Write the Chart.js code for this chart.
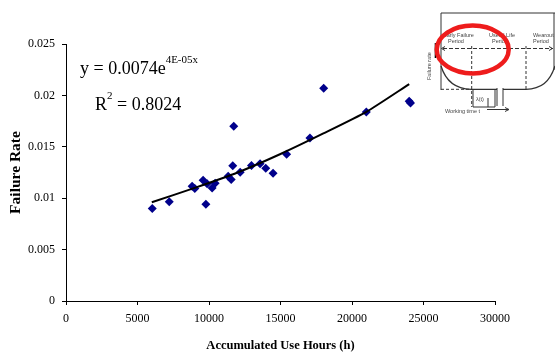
<!DOCTYPE html>
<html>
<head>
<meta charset="utf-8">
<script src="https://cdn.jsdelivr.net/npm/chart.js@4.4.0/dist/chart.umd.min.js"></script>
<style>
  body { margin: 0; background: #fff; }
  #wrap { position: relative; width: 555px; height: 356px; font-family: "Liberation Serif", "Times New Roman", serif; }
  #chart { position: absolute; left: 0; top: 0; }
  .eq { position: absolute; font-size: 18px; line-height: 20px; white-space: nowrap; color: #000; }
  .eq sup { font-size: 11px; position: relative; top: -4px; }
  #inset { position: absolute; left: 0; top: 0; pointer-events: none; }
  #inset text { font-family: "Liberation Sans", Arial, sans-serif; font-size: 5.5px; fill: #444; }
</style>
</head>
<body>
<div id="wrap">
  <canvas id="chart" width="555" height="356"></canvas>
  <div class="eq" id="eq1" style="left:80px; top:53px;">y = 0.0074e<sup>4E-05x</sup></div>
  <div class="eq" id="eq2" style="left:95px; top:89px;">R<sup>2</sup> = 0.8024</div>
  <svg id="inset" width="555" height="356" viewBox="0 0 555 356">
    <g stroke="#333" fill="none" stroke-width="1">
      <polyline points="441,90 441,13 555,13" />
      <line x1="554" y1="13" x2="554" y2="70" />
      <line x1="443" y1="48.5" x2="553" y2="48.5" stroke-dasharray="4 2" />
      <path d="M445,46.5 L441.5,48.5 L445,50.5 M549,46.5 L552.5,48.5 L549,50.5" />
      <line x1="471.7" y1="46" x2="471.7" y2="107" stroke-dasharray="3 2" />
      <line x1="526" y1="46" x2="526" y2="90" stroke-dasharray="3 2" />
      <line x1="441" y1="89.3" x2="470" y2="89.3" stroke-dasharray="3 2" />
      <path d="M441,66 C446,82 456,89 471,89.3 L497,89.3 M503,89.3 L526,89.3 C541,89 550,82 555,66" stroke-width="1.3" />
      <path d="M497,88 L497,106 M503,88 L503,106" />
      <path d="M473,90 L473,107 L495,107 L495,90 M488,98 L488,107" />
      <line x1="435.5" y1="43" x2="435.5" y2="58" stroke="#000" stroke-width="1.6" />
      <path d="M487,109.5 L509,109.5 M505,107.5 L509,109.5 L505,111.5" />
    </g>
    <text x="443" y="37">Early Failure</text>
    <text x="448" y="43">Period</text>
    <text x="489" y="37">Useful Life</text>
    <text x="492" y="43">Period</text>
    <text x="533" y="37">Wearout</text>
    <text x="533" y="43">Period</text>
    <text x="476" y="101">λ(t)</text>
    <text x="445" y="113">Working time t</text>
    <text transform="translate(431,80) rotate(-90)">Failure rate</text>
    <ellipse cx="472.7" cy="49.5" rx="36" ry="24" fill="none" stroke="#ee1c1c" stroke-width="4.5" />
  </svg>
</div>
<script>
const hours = [6030, 7220, 8820, 9010, 9590, 9780, 9870, 10220, 10430, 11340, 11550, 11660,
  11730, 12180, 12970, 13570, 13970, 14480, 15430, 17060, 18020, 21000, 24000, 24090]
const failureRate = [0.0090, 0.00966, 0.01117, 0.01095, 0.01175, 0.0094, 0.0114, 0.0110, 0.01146, 0.01214, 0.01182, 0.01315,
  0.0170, 0.01253, 0.01318, 0.01334, 0.01292, 0.01243, 0.01427, 0.01586, 0.0207, 0.01838, 0.01944, 0.01925]

// exponential trendline
const trendHours = [6000, 9000, 12000, 15000, 18000, 21000, 24000]
const trendRate = [0.0096, 0.0110, 0.0125, 0.0143, 0.0163, 0.0184, 0.0211]

const xTickLabels = ['0', '5000', '10000', '15000', '20000', '25000', '30000']
const yTickLabels = ['0', '0.005', '0.01', '0.015', '0.02', '0.025']

const serif = '"Liberation Serif", "Times New Roman", serif'

let points = hours.map((h, i) => ({ x: h, y: failureRate[i] }))
let trend = trendHours.map((h, i) => ({ x: h, y: trendRate[i] }))

new Chart('chart', {
  type: 'scatter',
  data: {
    datasets: [
      {
        data: trend,
        showLine: true,
        borderColor: '#000',
        borderWidth: 2,
        pointRadius: 0,
        tension: 0.2,
        order: 0,
      },
      {
        data: points,
        pointStyle: 'rectRot',
        pointRadius: 4.5,
        backgroundColor: '#00008b',
        borderColor: '#00008b',
        borderWidth: 0,
        order: 1,
      },
    ],
  },
  options: {
    responsive: false,
    animation: false,
    devicePixelRatio: 1,
    layout: { padding: { left: 0, right: 60, top: 44, bottom: 0 } },
    plugins: { legend: { display: false }, tooltip: { enabled: false } },
    scales: {
      x: {
        type: 'linear',
        min: 0,
        max: 30000,
        afterFit: (s) => { s.height = 55 },
        ticks: {
          stepSize: 5000,
          color: '#000',
          padding: 7,
          font: { family: serif, size: 12 },
          callback: (v, i) => xTickLabels[i],
        },
        grid: { drawOnChartArea: false, drawTicks: true, tickLength: 4, color: '#000' },
        border: { color: '#000', width: 1 },
        title: {
          display: true,
          text: 'Accumulated Use Hours (h)',
          color: '#000',
          font: { family: serif, size: 12.5, weight: 'bold' },
          padding: { top: 0, bottom: 3 },
        },
      },
      y: {
        min: 0,
        max: 0.025,
        afterFit: (s) => { s.width = 66 },
        ticks: {
          stepSize: 0.005,
          color: '#000',
          padding: 7,
          font: { family: serif, size: 12 },
          callback: (v, i) => yTickLabels[i],
        },
        grid: { drawOnChartArea: false, drawTicks: true, tickLength: 4, color: '#000' },
        border: { color: '#000', width: 1 },
        title: {
          display: true,
          text: 'Failure Rate',
          color: '#000',
          font: { family: serif, size: 15.5, weight: 'bold' },
          padding: { top: 7, bottom: 0 },
        },
      },
    },
  },
})
</script>
</body>
</html>
